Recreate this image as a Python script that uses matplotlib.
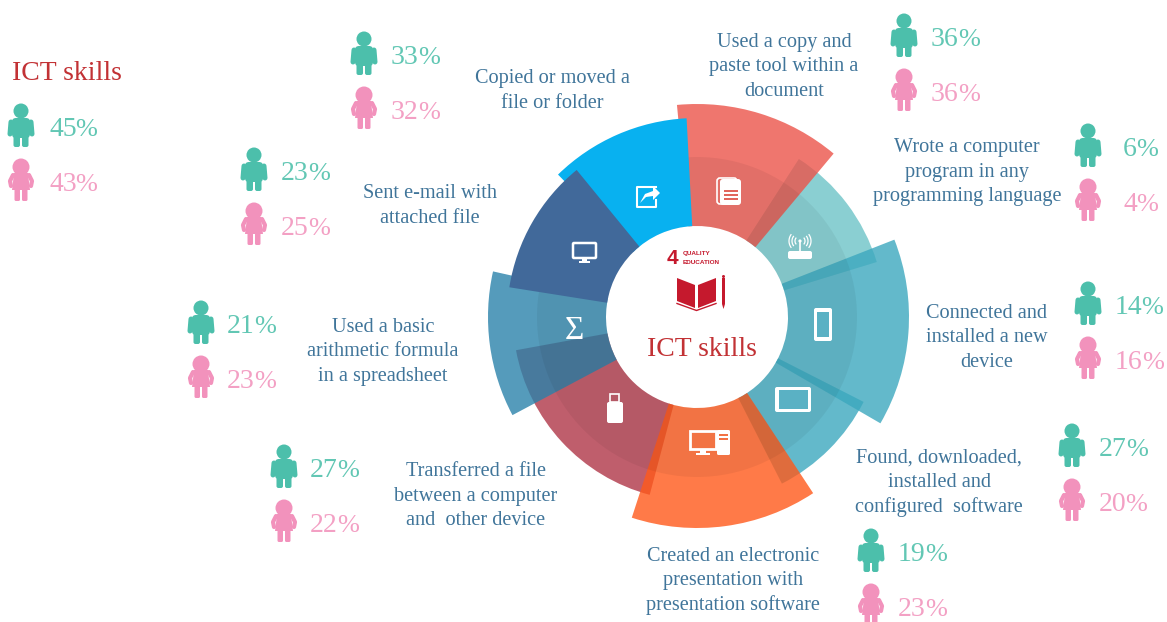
import numpy as np
import matplotlib
matplotlib.use('Agg')
import matplotlib.pyplot as plt
from matplotlib.patches import Circle, FancyBboxPatch, Polygon, Rectangle

plt.rcParams['font.family'] = ['Liberation Serif', 'DejaVu Serif']

# wedges (degrees clockwise from 12 o'clock, radius in px)
skills = ['Used a copy and\npaste tool within a\ndocument',
          'Wrote a computer\nprogram in any\nprogramming language',
          'Connected and\ninstalled a new\ndevice',
          'Found, downloaded,\ninstalled and\nconfigured  software',
          'Created an electronic\npresentation with\npresentation software',
          'Transferred a file\nbetween a computer\nand  other device',
          'Used a basic\narithmetic formula\nin a spreadsheet',
          'Sent e-mail with\nattached file',
          'Copied or moved a\nfile or folder']
male_pct = [36, 6, 14, 27, 19, 27, 21, 23, 33]
female_pct = [36, 4, 16, 20, 23, 22, 23, 25, 32]
total_male = 45
total_female = 43

wedge_start = [-5.4, 32.8, 68.6, 117, 146.6, 194.9, 242, 279, -44.3]
wedge_end = [39.9, 73, 120.1, 153, 198, 259.6, 282.6, 320.7, -3]
wedge_outer = [213, 188, 212, 187, 211, 184, 209, 190, 199]
wedge_colors = ['#EC544A', '#6DC3C7', '#3CA8BE', '#3CA8BE', '#FF591A', '#B03647', '#2A82AA', '#41699A', '#08B1F0']

# layout in pixels
label_xy = [(784, 67), (967, 172), (987, 338), (939, 483), (733, 581), (476, 496), (383, 352), (430, 206), (552, 91)]
male_xy = [(904, 35), (1088, 145), (1088, 303), (1072, 445), (871, 550), (284, 466), (201, 322), (254, 169), (364, 53)]
pct_x = [931, 1123, 1115, 1099, 898, 310, 227, 281, 391]

TEAL = '#4CBFAB'
PINK = '#F292BC'
TEAL_TXT = '#62C7B4'
PINK_TXT = '#F3A0C4'
LABEL = '#40759A'
RED = '#C23235'
SDG = '#C5192D'
INNER = 91
CX, CY = 697, 317
W, H = 1167, 622

fig = plt.figure(figsize=(W / 100, H / 100), dpi=100, facecolor='white')

# the rose itself on a polar axes
RMAX = 225
pol = fig.add_axes([(CX - RMAX) / W, 1 - (CY + RMAX) / H, 2 * RMAX / W, 2 * RMAX / H], projection='polar')
pol.set_theta_zero_location('N')
pol.set_theta_direction(-1)
pol.set_rlim(0, RMAX)
pol.axis('off')

order = [1, 0, 3, 2, 5, 4, 6]
for i in order:
    th0, th1 = np.radians(wedge_start[i]), np.radians(wedge_end[i])
    pol.bar((th0 + th1) / 2, wedge_outer[i] - INNER, th1 - th0, bottom=INNER,
            color=wedge_colors[i], alpha=0.8, linewidth=0, zorder=2)
# darker inner ring
pol.bar(np.pi, 160 - INNER, 2 * np.pi, bottom=INNER, color='black', alpha=0.05, linewidth=0, zorder=3)
for z, i in enumerate([8, 7]):
    th0, th1 = np.radians(wedge_start[i]), np.radians(wedge_end[i])
    pol.bar((th0 + th1) / 2, wedge_outer[i] - INNER, th1 - th0, bottom=INNER,
            color=wedge_colors[i], linewidth=0, zorder=4 + z)

# everything else in pixel coordinates
ax = fig.add_axes([0, 0, 1, 1], zorder=5)
ax.set_xlim(0, W)
ax.set_ylim(H, 0)
ax.axis('off')
ax.patch.set_alpha(0)


def rbox(x, y, w, h, r, **kw):
    kw.setdefault('linewidth', 0)
    ax.add_patch(FancyBboxPatch((x + r, y + r), w - 2 * r, h - 2 * r,
                                boxstyle=f'round,pad={r},rounding_size={r}', **kw))


def male(cx, cy, c):
    ax.add_patch(Circle((cx, cy - 14), 7.5, color=c, lw=0))
    rbox(cx - 9, cy - 7, 18, 20, 4, color=c)
    ax.plot([cx - 10, cx - 11], [cy - 3, cy + 9], color=c, lw=3.6, solid_capstyle='round')
    ax.plot([cx + 10, cx + 11], [cy - 3, cy + 9], color=c, lw=3.6, solid_capstyle='round')
    rbox(cx - 7.5, cy + 8, 6.5, 14, 2, color=c)
    rbox(cx + 1, cy + 8, 6.5, 14, 2, color=c)


def female(cx, cy, c):
    ax.add_patch(Circle((cx, cy - 13), 8.5, color=c, lw=0))
    ax.add_patch(Polygon([(cx - 7, cy - 7), (cx + 7, cy - 7), (cx + 8, cy + 2), (cx + 9, cy + 10),
                          (cx - 9, cy + 10), (cx - 8, cy + 2)], color=c, lw=0))
    ax.plot([cx - 8, cx - 11, cx - 10], [cy - 5, cy + 1, cy + 6], color=c, lw=3, solid_capstyle='round')
    ax.plot([cx + 8, cx + 11, cx + 10], [cy - 5, cy + 1, cy + 6], color=c, lw=3, solid_capstyle='round')
    rbox(cx - 6.5, cy + 9, 5.5, 12, 1.5, color=c)
    rbox(cx + 1, cy + 9, 5.5, 12, 1.5, color=c)


def pct_text(x, y, value, c):
    t = ax.text(x, y, str(value), color=c, fontsize=20, va='baseline', ha='left')
    box = t.get_window_extent(fig.canvas.get_renderer())
    x1 = ax.transData.inverted().transform((box.x1, box.y0))[0]
    ax.text(x1 - 1, y, '%', color=c, fontsize=19, va='baseline', ha='left')


def pair(mx, my, tx, m_val, f_val):
    male(mx, my, TEAL)
    female(mx, my + 55, PINK)
    pct_text(tx, my + 11, m_val, TEAL_TXT)
    pct_text(tx, my + 66, f_val, PINK_TXT)


for i, lab in enumerate(skills):
    ax.text(label_xy[i][0], label_xy[i][1], lab, color=LABEL, fontsize=14.6, ha='center', va='center',
            linespacing=1.38, multialignment='center')
    pair(male_xy[i][0], male_xy[i][1], pct_x[i], male_pct[i], female_pct[i])

ax.text(12, 74, 'ICT skills', color=RED, fontsize=20, ha='left', va='center')
pair(21, 125, 49, total_male, total_female)

# centre logo and title
ax.text(702, 349, 'ICT skills', color=RED, fontsize=20, ha='center', va='center')
ax.text(672, 258, '4', color=SDG, fontsize=15, fontweight='bold', family='Liberation Sans', ha='center', va='center')
ax.text(683, 254, 'QUALITY', color=SDG, fontsize=4.6, fontweight='bold', family='Liberation Sans', ha='left', va='center')
ax.text(683, 263, 'EDUCATION', color=SDG, fontsize=4.6, fontweight='bold', family='Liberation Sans', ha='left', va='center')
ax.add_patch(Polygon([(677, 278), (695, 285), (695, 308), (677, 301)], color=SDG, lw=0))
ax.add_patch(Polygon([(698, 285), (716, 278), (716, 301), (698, 308)], color=SDG, lw=0))
ax.plot([677, 696.5, 716], [303.5, 310.5, 303.5], color=SDG, lw=1)
ax.add_patch(Rectangle((722, 278), 3, 26, color=SDG, lw=0))
ax.add_patch(Polygon([(722, 304), (725, 304), (723.5, 309)], color=SDG, lw=0))
ax.add_patch(Circle((723.5, 276.5), 1.5, color=SDG, lw=0))

WHITE = 'white'
# document
rbox(717, 178, 20, 26, 3, facecolor='none', edgecolor=WHITE, linewidth=1.2)
rbox(720, 179, 21, 26, 3, color=WHITE, zorder=3)
for yy in [190, 194, 198]:
    ax.add_patch(Rectangle((724, yy), 14, 1.8, color='#E1665C', lw=0, zorder=4))
# router
rbox(788, 251, 24, 8, 2, color=WHITE)
ax.plot([800, 800], [241, 251], color=WHITE, lw=1.2)
ax.add_patch(Circle((800, 241), 1.6, color=WHITE, lw=0))
for r in [5, 8, 11]:
    a = np.radians(np.linspace(-35, 35, 12))
    ax.plot(800 + r * np.cos(a), 241 + r * np.sin(a), color=WHITE, lw=0.9)
    ax.plot(800 - r * np.cos(a), 241 + r * np.sin(a), color=WHITE, lw=0.9)
# phone
rbox(814, 308, 18, 33, 2, color=WHITE)
ax.add_patch(Rectangle((817, 312), 12, 25, color='#5AB1C4', lw=0, zorder=4))
# tablet
rbox(775, 387, 36, 25, 2, color=WHITE)
ax.add_patch(Rectangle((778.5, 390), 29, 19, color='#5AB1C4', lw=0, zorder=4))
# desktop computer
ax.add_patch(Rectangle((690, 431), 26, 18, facecolor='none', edgecolor=WHITE, linewidth=2))
ax.add_patch(Rectangle((700, 449), 6, 4, color=WHITE, lw=0))
ax.add_patch(Rectangle((696, 453), 14, 2, color=WHITE, lw=0))
rbox(717, 430, 13, 25, 1.5, color=WHITE)
ax.add_patch(Rectangle((719, 434), 9, 2, color='#F27245', lw=0, zorder=4))
ax.add_patch(Rectangle((719, 438), 9, 2, color='#F27245', lw=0, zorder=4))
# usb stick
ax.add_patch(Rectangle((610, 394), 9, 8, facecolor='none', edgecolor=WHITE, linewidth=1.2))
rbox(607, 402, 16, 21, 2, color=WHITE)
# sigma
ax.text(574, 331, '\u03a3', color=WHITE, fontsize=24, ha='center', va='center')
# monitor
rbox(573, 243, 23, 15, 1, facecolor='none', edgecolor=WHITE, linewidth=1.8)
ax.add_patch(Rectangle((582, 258), 5, 3, color=WHITE, lw=0))
ax.add_patch(Rectangle((579, 261), 11, 1.6, color=WHITE, lw=0))
# share arrow
ax.plot([656, 637, 637, 656, 656], [187, 187, 207, 207, 200], color=WHITE, lw=1.5)
ax.add_patch(Polygon([(640, 203), (645, 194), (653, 191), (653, 186), (660, 193), (653, 200), (653, 196),
                      (646, 197)], color=WHITE, lw=0))

fig.savefig('out.png', dpi=100, facecolor='white')
